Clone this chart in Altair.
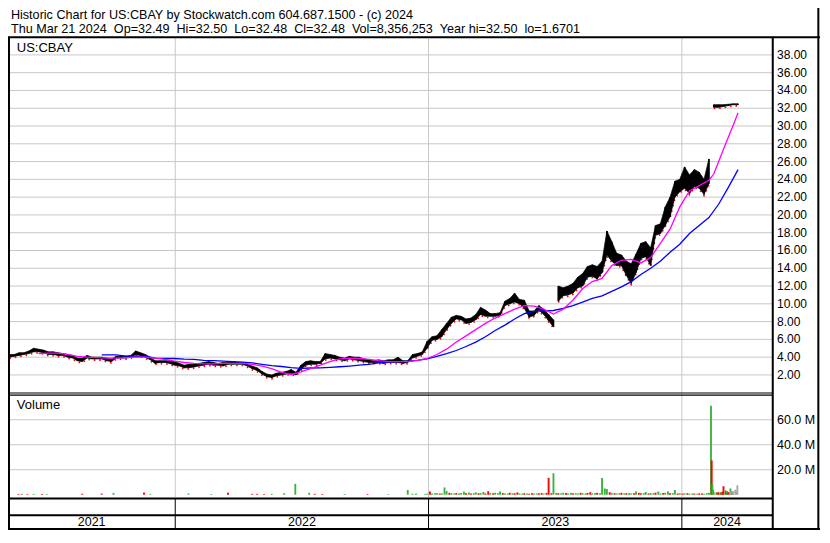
import altair as alt
import pandas as pd

# ---------------- data ----------------
header_1 = "Historic Chart for US:CBAY by Stockwatch.com 604.687.1500 - (c) 2024"
header_2 = ("Thu Mar 21 2024\u00a0\u00a0Op=32.49\u00a0\u00a0Hi=32.50\u00a0\u00a0Lo=32.48\u00a0\u00a0"
            "Cl=32.48\u00a0\u00a0Vol=8,356,253\u00a0\u00a0Year hi=32.50\u00a0\u00a0lo=1.6701")
symbol = "US:CBAY"

week_first = "2021-05-07"          # first weekly bar (Friday)
n_weeks = 151

price_lo = [4.0, 4.1, 4.2, 4.3, 4.4, 4.6, 4.6, 4.5, 4.3, 4.3,
            4.2, 4.2, 4.0, 3.9, 3.6, 3.5, 3.9, 3.8, 3.8, 3.8,
            3.6, 3.5, 3.9, 3.9, 3.9, 4.0, 4.3, 4.2, 4.0, 3.7,
            3.3, 3.4, 3.4, 3.3, 3.1, 3.0, 2.8, 2.8, 2.9, 3.0,
            3.1, 3.2, 3.1, 3.1, 3.0, 3.2, 3.2, 3.2, 3.2, 3.0,
            2.7, 2.5, 2.1, 1.8, 1.7, 1.9, 2.0, 2.1, 2.2, 2.0,
            2.6, 3.1, 3.2, 3.2, 3.3, 3.8, 3.9, 3.8, 3.7, 3.6,
            3.8, 3.7, 3.6, 3.5, 3.4, 3.4, 3.4, 3.3, 3.4, 3.4,
            3.4, 3.3, 3.4, 3.9, 4.1, 4.3, 5.0, 5.9, 6.0, 6.3,
            7.1, 7.8, 8.3, 8.2, 7.8, 7.9, 8.2, 8.8, 8.6, 8.6,
            8.6, 8.7, 9.8, 10.0, 10.2, 10.0, 9.5, 8.5, 8.7, 9.3,
            8.8, 8.1, 7.4, 10.3, 10.9, 11.0, 11.2, 11.8, 12.0, 13.0,
            13.1, 12.8, 13.5, 15.5, 14.8, 14.3, 14.3, 13.2, 12.3, 13.5,
            15.1, 15.3, 14.3, 17.7, 17.9, 18.8, 19.8, 22.0, 22.6, 23.0,
            22.4, 23.2, 23.0, 22.3, 23.5, 32.1, 32.1, 32.2, 32.3, 32.4,
            32.4]
price_hi = [4.3, 4.3, 4.5, 4.5, 4.7, 5.0, 4.9, 4.8, 4.6, 4.6,
            4.5, 4.4, 4.3, 4.2, 3.9, 3.9, 4.2, 4.0, 4.0, 4.0,
            3.9, 3.8, 4.1, 4.1, 4.1, 4.2, 4.7, 4.5, 4.3, 4.0,
            3.6, 3.6, 3.6, 3.6, 3.5, 3.3, 3.1, 3.2, 3.2, 3.3,
            3.4, 3.5, 3.4, 3.3, 3.4, 3.4, 3.5, 3.4, 3.4, 3.2,
            3.0, 2.8, 2.4, 2.1, 2.0, 2.2, 2.3, 2.4, 2.6, 2.3,
            3.1, 3.5, 3.6, 3.5, 3.5, 4.4, 4.3, 4.2, 4.0, 3.9,
            4.1, 4.0, 4.0, 3.8, 3.7, 3.6, 3.7, 3.6, 3.7, 3.7,
            4.0, 3.6, 3.6, 4.3, 4.4, 4.6, 5.8, 6.3, 6.4, 7.1,
            7.8, 8.5, 8.7, 8.6, 8.3, 8.4, 8.8, 9.6, 9.3, 8.9,
            8.9, 9.0, 10.3, 10.6, 11.2, 10.5, 10.4, 9.2, 9.2, 9.8,
            9.4, 8.8, 8.2, 12.0, 11.8, 12.0, 12.3, 13.0, 13.4, 14.2,
            14.4, 14.2, 14.8, 18.2, 17.0, 15.7, 15.5, 14.8, 14.5, 15.6,
            16.8, 17.0, 16.3, 18.8, 19.0, 20.9, 22.0, 23.8, 24.0, 25.4,
            24.5, 25.1, 24.8, 24.0, 26.3, 32.4, 32.4, 32.4, 32.45, 32.5,
            32.5]
price_gap_weeks = [113, 145]       # first weekly bar after a price gap

ma50_weeks = [6, 8, 10, 12, 14, 16, 18, 20, 22, 24, 26, 28, 30, 32, 34, 36, 38, 40,
              42, 44, 46, 48, 50, 52, 54, 56, 58, 60, 62, 64, 66, 68, 70, 72, 74, 76,
              78, 80, 82, 84, 86, 88, 90, 92, 94, 96, 98, 100, 102, 104, 106, 108,
              110, 112, 114, 116, 118, 120, 122, 124, 126, 128, 130, 132, 134, 136,
              138, 140, 142, 144, 145, 147, 149, 150]
ma50_vals = [4.4, 4.45, 4.45, 4.3, 4.1, 4.0, 3.95, 3.9, 3.9, 3.95, 4.0, 4.0, 3.9, 3.75,
             3.55, 3.4, 3.3, 3.25, 3.25, 3.3, 3.3, 3.3, 3.2, 3.0, 2.7, 2.3, 2.05, 2.35,
             2.7, 3.1, 3.5, 3.8, 3.9, 3.85, 3.75, 3.6, 3.5, 3.5, 3.5, 3.65, 3.85, 4.3,
             4.9, 5.7, 6.4, 7.1, 7.8, 8.4, 8.9, 9.4, 9.8, 9.75, 9.4, 8.85, 9.4, 10.4,
             11.7, 12.5, 12.85, 14.3, 14.9, 15.0, 14.6, 15.2, 16.8, 18.4, 20.9, 22.7,
             23.3, 23.9, 24.6, 27.4, 30.1, 31.5]

ma200_weeks = [19, 20, 22, 24, 26, 28, 30, 32, 34, 36, 38, 40, 42, 44, 46, 48, 50, 52,
               54, 56, 58, 60, 62, 64, 66, 68, 70, 72, 74, 76, 78, 80, 82, 84, 86, 88,
               90, 92, 94, 96, 98, 100, 102, 104, 106, 108, 110, 112, 114, 116, 118,
               120, 122, 124, 126, 128, 130, 132, 134, 136, 138, 140, 142, 144, 146,
               148, 150]
ma200_vals = [4.25, 4.25, 4.25, 4.12, 4.1, 4.1, 3.9, 3.85, 3.85, 3.78, 3.75, 3.65, 3.6,
              3.55, 3.5, 3.45, 3.35, 3.2, 3.05, 2.95, 2.82, 2.75, 2.78, 2.8, 2.85, 2.92,
              3.0, 3.1, 3.2, 3.35, 3.45, 3.5, 3.55, 3.65, 3.8, 4.1, 4.4, 4.75, 5.2, 5.7,
              6.3, 7.0, 7.6, 8.3, 8.9, 9.15, 9.2, 9.25, 9.5, 9.8, 10.2, 10.6, 10.9, 11.4,
              11.9, 12.5, 13.3, 14.0, 14.8, 15.8, 16.7, 17.9, 18.8, 19.7, 21.2, 23.1, 25.1]

# volume, millions of shares; colour code g = up, r = down, n = unchanged
vol_early_dates = ["2021-05-20", "2021-05-25", "2021-06-02", "2021-06-11", "2021-06-23",
                   "2021-06-30", "2021-08-20", "2021-09-17", "2021-10-04", "2021-11-17",
                   "2021-11-26", "2022-01-20", "2022-02-22", "2022-03-18", "2022-04-22",
                   "2022-04-29", "2022-05-09", "2022-05-20", "2022-06-07", "2022-06-23",
                   "2022-07-13", "2022-07-21", "2022-08-01", "2022-09-02", "2022-10-05",
                   "2022-11-04", "2022-12-02", "2022-12-09", "2022-12-14"]
vol_early_vals = [0.6, 0.8, 0.5, 0.7, 0.6, 0.5, 0.8, 0.9, 1.4, 1.8, 0.6, 1.0, 0.6, 1.6,
                  0.7, 0.7, 0.6, 0.7, 1.2, 8.7, 1.5, 0.7, 0.6, 0.6, 0.6, 0.5, 3.8, 0.8, 0.9]
vol_early_cols = "rgrgrgrrgrggg" "rrrrggggrrgrgggg"

vol_week_first = 86                # weekly grid index of the first two-per-week pair
vol_tue_vals = [0.6, 2.6, 1.2, 0.9, 5.8, 1.5, 1.0, 1.1, 2.5, 1.8, 1.1, 1.2, 2.2, 2.8, 1.1,
                1.2, 1.3, 1.0, 1.1, 1.8, 0.9, 1.0, 1.2, 1.0, 1.3, 1.5, 1.2, 1.5, 1.0, 1.3,
                1.5, 1.2, 1.5, 1.0, 2.0, 1.3, 1.2, 5.0, 2.0, 1.2, 1.3, 1.1, 1.4, 1.2, 1.5,
                1.3, 1.0, 1.2, 2.5, 1.3, 2.5, 1.2, 1.0, 0.9, 1.2, 1.0, 0.8, 1.0, 1.2]
vol_tue_cols = "grgrgrgggg" "grgrrgrggr" "ggrgrrrggr" "ggrgrgggrr" "gggrrgrggr" "ggrrrggrg"
vol_fri_vals = [0.9, 1.0, 1.3, 1.1, 3.0, 1.2, 1.3, 1.4, 1.2, 1.0, 1.9, 1.3, 1.0, 1.4, 1.6,
                2.5, 1.0, 1.5, 1.2, 1.0, 1.2, 0.8, 0.9, 1.1, 0.8, 13.5, 17.2, 1.2, 1.6, 1.0,
                1.1, 1.0, 1.2, 1.4, 1.1, 1.5, 13.3, 4.5, 1.5, 1.0, 1.5, 1.2, 1.0, 2.5, 1.1,
                2.2, 1.4, 1.6, 1.0, 1.5, 1.1, 3.8, 1.2, 1.1, 0.8, 0.9, 1.1, 0.8, 1.5]
vol_fri_cols = "ggggggrgrr" "ggrggggrrg" "rrgrgrgrgg" "rggrgrgggg" "rrggrggrgg" "rggggrrgg"

vol_2024_dates = ["2024-02-12", "2024-02-13", "2024-02-14", "2024-02-15", "2024-02-16",
                  "2024-02-20", "2024-02-21", "2024-02-22", "2024-02-23", "2024-02-26",
                  "2024-02-27", "2024-02-28", "2024-02-29", "2024-03-01", "2024-03-04",
                  "2024-03-05", "2024-03-06", "2024-03-07", "2024-03-08", "2024-03-11",
                  "2024-03-12", "2024-03-13", "2024-03-14", "2024-03-15", "2024-03-18",
                  "2024-03-19", "2024-03-20", "2024-03-21"]
vol_2024_vals = [71.2, 27.5, 8.8, 4.0, 2.0, 1.8, 1.5, 2.0, 1.8, 2.0, 1.6, 2.2, 2.5, 6.8,
                 3.5, 2.5, 3.0, 2.0, 2.0, 5.0, 2.5, 2.0, 3.0, 2.5, 4.0, 2.5, 2.8, 7.6]
vol_2024_cols = "grgggrggrgrgrrgrggrgngnnnnnn"

price_ticks = [2, 4, 6, 8, 10, 12, 14, 16, 18, 20, 22, 24, 26, 28, 30, 32, 34, 36, 38]
vol_ticks = [20, 40, 60]
year_starts = ["2022-01-01", "2023-01-01", "2024-01-01"]
year_labels = ["2021", "2022", "2023", "2024"]

assert len(price_lo) == len(price_hi) == n_weeks
assert len(ma50_weeks) == len(ma50_vals) and len(ma200_weeks) == len(ma200_vals)
assert len(vol_early_dates) == len(vol_early_vals) == len(vol_early_cols)
assert len(vol_tue_vals) == len(vol_tue_cols) == len(vol_fri_vals) == len(vol_fri_cols)
assert len(vol_2024_dates) == len(vol_2024_vals) == len(vol_2024_cols)

# ---------------- layout (reference pixels scaled to the page) ----------------
W, H = 812, 522
SX, SY = W / 830.0, H / 543.0


def X(px):
    return px * SX


def Y(py):
    return py * SY


FONT = "Liberation Sans"
GRID = "#c8c8c8"
GREEN, RED, GREY = "#3cb43c", "#ff0000", "#a8a8a8"

# ---------------- tables ----------------
week_dates = pd.date_range(week_first, periods=n_weeks, freq="7D")
wd = week_dates.strftime("%Y-%m-%d")
seg = [sum(1 for g in price_gap_weeks if i >= g) for i in range(n_weeks)]
price_df = pd.DataFrame({"d": wd, "lo": price_lo, "hi": price_hi, "seg": seg})

ma50_df = pd.DataFrame({"d": [wd[i] for i in ma50_weeks], "v": ma50_vals})
ma200_df = pd.DataFrame({"d": [wd[i] for i in ma200_weeks], "v": ma200_vals})

n_mid = len(vol_tue_vals)
mid_weeks = week_dates[vol_week_first:vol_week_first + n_mid]
tue_dates = (mid_weeks - pd.Timedelta(days=3)).strftime("%Y-%m-%d")
fri_dates = mid_weeks.strftime("%Y-%m-%d")
vol_df = pd.DataFrame({
    "d": list(vol_early_dates) + list(tue_dates) + list(fri_dates) + list(vol_2024_dates),
    "v": vol_early_vals + vol_tue_vals + vol_fri_vals + vol_2024_vals,
    "c": list(vol_early_cols) + list(vol_tue_cols) + list(vol_fri_cols) + list(vol_2024_cols),
})

pt_df = pd.DataFrame({"v": price_ticks, "t": [f"{t:.2f}" for t in price_ticks]})
vt_df = pd.DataFrame({"v": vol_ticks, "t": [f"{t:.1f} M" for t in vol_ticks]})
yr_df = pd.DataFrame({"d": year_starts})
one = pd.DataFrame({"a": [0]})

# ---------------- scales ----------------
xscale = alt.Scale(domain=[alt.DateTime(year=2021, month=5, date=5, utc=True),
                           alt.DateTime(year=2024, month=5, date=10, utc=True)],
                   range=[0, X(781)])
pscale = alt.Scale(domain=[0, 40], range=[Y(400.2), Y(30.3)], nice=False, zero=False)
vscale = alt.Scale(domain=[0, 80], range=[Y(506.3), Y(402.3)], nice=False, zero=False)

xd = alt.X("d:T", scale=xscale, axis=None)

layers = []

# grid lines
layers.append(alt.Chart(pt_df).mark_rule(color=GRID, strokeWidth=1).encode(
    y=alt.Y("v:Q", scale=pscale, axis=None), x=alt.value(0), x2=alt.value(X(781))))
layers.append(alt.Chart(vt_df).mark_rule(color=GRID, strokeWidth=1).encode(
    y=alt.Y("v:Q", scale=vscale, axis=None), x=alt.value(0), x2=alt.value(X(781))))
layers.append(alt.Chart(yr_df).mark_rule(color=GRID, strokeWidth=1).encode(
    x=xd, y=alt.value(Y(31)), y2=alt.value(Y(509))))
layers.append(alt.Chart(yr_df).mark_rule(color="#000000", strokeWidth=1).encode(
    x=xd, y=alt.value(Y(510)), y2=alt.value(Y(542))))

# volume bars
layers.append(alt.Chart(vol_df).mark_rule(strokeWidth=1.9).encode(
    x=xd,
    y=alt.Y("v:Q", scale=vscale, axis=None),
    y2=alt.datum(0),
    color=alt.Color("c:N", scale=alt.Scale(domain=["g", "r", "n"], range=[GREEN, RED, GREY]),
                    legend=None)))

# price bars
layers.append(alt.Chart(price_df).mark_line(color=RED, strokeWidth=1.6, strokeDash=[1.5, 4],
                                            yOffset=1.2).encode(
    x=xd, y=alt.Y("lo:Q", scale=pscale, axis=None), detail="seg:N"))
layers.append(alt.Chart(price_df).mark_area(color="#000000", stroke="#000000", strokeWidth=0.7,
                                            interpolate="linear").encode(
    x=xd, y=alt.Y("lo:Q", scale=pscale, axis=None), y2="hi:Q", detail="seg:N"))
layers.append(alt.Chart(price_df).mark_rule(color="#000000", strokeWidth=1.6).encode(
    x=xd, y=alt.Y("lo:Q", scale=pscale, axis=None), y2="hi:Q"))

# moving averages
layers.append(alt.Chart(ma200_df).mark_line(color="#0000ff", strokeWidth=1.3).encode(
    x=xd, y=alt.Y("v:Q", scale=pscale, axis=None)))
layers.append(alt.Chart(ma50_df).mark_line(color="#ff00ff", strokeWidth=1.3).encode(
    x=xd, y=alt.Y("v:Q", scale=pscale, axis=None)))

# axis labels on the right
layers.append(alt.Chart(pt_df).mark_text(align="left", baseline="middle", font=FONT,
                                         fontSize=12, color="#000000").encode(
    y=alt.Y("v:Q", scale=pscale, axis=None), x=alt.value(X(786)), text="t:N"))
layers.append(alt.Chart(vt_df).mark_text(align="left", baseline="middle", font=FONT,
                                         fontSize=12.5, color="#000000").encode(
    y=alt.Y("v:Q", scale=vscale, axis=None), x=alt.value(X(786)), text="t:N"))


def text(s, x, y, size=13, align="left"):
    return alt.Chart(one).mark_text(text=s, align=align, baseline="middle", font=FONT,
                                    fontSize=size, color="#000000").encode(
        x=alt.value(X(x)), y=alt.value(Y(y)))


def line(x0, y0, x1, y1, w=2):
    return alt.Chart(one).mark_rule(color="#000000", strokeWidth=w).encode(
        x=alt.value(X(x0)), x2=alt.value(X(x1)), y=alt.value(Y(y0)), y2=alt.value(Y(y1)))


layers += [
    text(header_1, 3, 7.6, 12.6),
    text(header_2, 3, 21.6, 12.6),
    text(symbol, 9, 42, 13),
    text("Volume", 9, 413, 13),
]
mids = [85.5, 300.5, 559.5, 735]
for lab, m in zip(year_labels, mids):
    layers.append(text(lab, m, 535, 12.5, "center"))

layers += [
    line(0, 30.3, 830, 30.3, 2),        # header underline
    line(1, 30, 1, 543, 2),             # left border
    line(828.3, 0, 828.3, 543, 2),      # right border
    line(0, 542, 830, 542, 2),          # bottom border
    line(781.7, 30, 781.7, 543, 2),     # plot / label separator
    line(0, 400.5, 781, 400.5, 1.2),    # double line under price panel
    line(0, 402.8, 781, 402.8, 1.2),
    line(0, 510.3, 781, 510.3, 2),
    line(0, 527.7, 781, 527.7, 2),
]

chart = alt.layer(*layers).resolve_scale(y="independent").properties(
    width=W, height=H, padding=0, autosize=alt.AutoSizeParams(type="none"),
    background="#ffffff",
).configure_view(strokeWidth=0)

chart.save("out.html", embed_options={"renderer": "svg", "actions": False})
